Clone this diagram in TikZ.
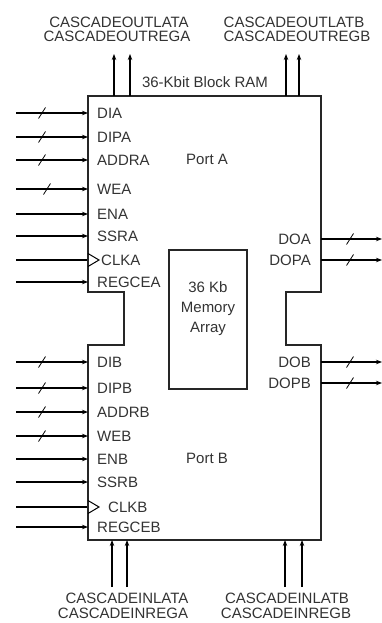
\documentclass[tikz,border=0pt]{standalone}
\usepackage{fontspec}
\setmainfont{Liberation Sans}
\usetikzlibrary{arrows.meta}
\begin{document}
\begin{tikzpicture}[x=1pt,y=-1pt,
  lbl/.style={font=\fontsize{15}{18}\selectfont, inner sep=0pt, text=black!80},
  sig/.style={line width=1.1pt, -{Stealth[length=6pt,width=4.5pt]}},
  plainsig/.style={line width=1.1pt},
  busmark/.style={line width=0.8pt},
  outline/.style={line width=1.3pt, draw=black!85},
  memtext/.style={font=\fontsize{15}{20}\selectfont, inner sep=0pt, align=center, text=black!80}]
\useasboundingbox (0,0) rectangle (382,623);

% main outline
\draw[outline] (88,96) -- (321,96) -- (321,292) -- (286,292) -- (286,345) -- (321,345)
  -- (321,540) -- (88,540) -- (88,345) -- (124,345) -- (124,292) -- (88,292) -- cycle;

% memory array
\node[outline, draw, minimum width=78pt, minimum height=139pt, inner sep=0pt] (mem) at (208,319.5) {};
\node[memtext] (memtxt) at (208,309) {36 Kb\\Memory\\Array};

\node[lbl] (porta) at (207,159) {Port A};
\node[lbl] (portb) at (207,458) {Port B};
\node[lbl] (title) at (205,82) {36-Kbit Block RAM};

% left inputs
\foreach \n/\y/\s/\sx in {DIA/113/1/42, DIPA/137/1/42, ADDRA/160/1/42, WEA/189/1/47,
    ENA/214/0/0, SSRA/236/0/0, REGCEA/282/0/0,
    DIB/362/1/42, DIPB/388/1/42, ADDRB/412/1/42, WEB/436/1/42,
    ENB/459/0/0, SSRB/482/0/0, REGCEB/527/0/0} {
  \coordinate (s\n) at (16,\y);
  \coordinate (e\n) at (88,\y);
  \node[lbl, anchor=west] (l\n) at (97,\y) {\n};
  \draw[sig] (s\n) -- (e\n);
  \ifnum\s=1
    \draw[busmark] (\sx-3.5,\y+5.5) -- (\sx+3.5,\y-5.5);
  \fi
}

% clocks
\foreach \n/\y/\lx in {CLKA/260/101, CLKB/507/108} {
  \coordinate (s\n) at (16,\y);
  \coordinate (e\n) at (87,\y);
  \node[lbl, anchor=west] (l\n) at (\lx,\y) {\n};
  \draw[plainsig] (s\n) -- (e\n);
  \draw[line width=1pt] (88,\y-6.5) -- (99,\y) -- (88,\y+6.5);
}

% right outputs
\foreach \n/\y in {DOA/239, DOPA/260, DOB/362, DOPB/383} {
  \coordinate (s\n) at (321,\y);
  \coordinate (e\n) at (382,\y);
  \node[lbl, anchor=east] (l\n) at (311,\y) {\n};
  \draw[sig] (s\n) -- (e\n);
  \draw[busmark] (350-3.5,\y+5.5) -- (350+3.5,\y-5.5);
}

% top cascade outputs
\foreach \n/\x in {oa1/114, oa2/130, ob1/286, ob2/299} {
  \coordinate (s\n) at (\x,96);
  \coordinate (e\n) at (\x,54);
  \draw[sig] (s\n) -- (e\n);
}
\node[lbl] (tl1) at (119,22) {CASCADEOUTLATA};
\node[lbl] (tl2) at (117,36.5) {CASCADEOUTREGA};
\node[lbl] (tr1) at (294,22) {CASCADEOUTLATB};
\node[lbl] (tr2) at (297,36.5) {CASCADEOUTREGB};

% bottom cascade inputs
\foreach \n/\x in {ia1/112, ia2/127, ib1/285, ib2/302} {
  \coordinate (s\n) at (\x,587);
  \coordinate (e\n) at (\x,540);
  \draw[sig] (s\n) -- (e\n);
}
\node[lbl] (bl1) at (127,598) {CASCADEINLATA};
\node[lbl] (bl2) at (123,613) {CASCADEINREGA};
\node[lbl] (br1) at (287,598) {CASCADEINLATB};
\node[lbl] (br2) at (286,613) {CASCADEINREGB};
\end{tikzpicture}
\end{document}
